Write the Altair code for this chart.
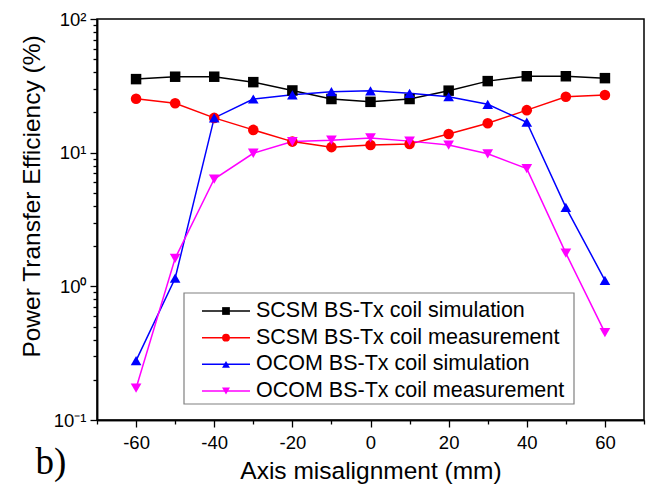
import altair as alt
import pandas as pd

# ---- data ----
x_mm = [-60, -50, -40, -30, -20, -10, 0, 10, 20, 30, 40, 50, 60]
scsm_sim = [35.5, 37.0, 37.0, 33.7, 29.2, 25.2, 24.0, 25.2, 29.1, 34.3, 37.3, 37.3, 36.1]
scsm_meas = [25.3, 23.4, 18.2, 14.8, 12.1, 11.0, 11.4, 11.6, 13.8, 16.6, 20.8, 26.2, 27.0]
ocom_sim = [0.278, 1.15, 18.2, 25.2, 27.1, 28.6, 29.0, 27.8, 26.2, 23.0, 16.9, 3.9, 1.11]
ocom_meas = [0.173, 1.62, 6.35, 9.9, 12.1, 12.4, 12.9, 12.2, 11.4, 9.8, 7.6, 1.77, 0.45]

series_names = [
    "SCSM BS-Tx coil simulation",
    "SCSM BS-Tx coil measurement",
    "OCOM BS-Tx coil simulation",
    "OCOM BS-Tx coil measurement",
]
series_colors = ["#000000", "#ff0000", "#0000ff", "#ff00ff"]
series_shapes = ["square", "circle", "triangle-up", "triangle-down"]
marker_sizes = [110, 115, 140, 140]
legend_marker_sizes = [60, 64, 80, 80]

x_major_ticks = [-60, -40, -20, 0, 20, 40, 60]
x_minor_ticks = [-70, -50, -30, -10, 10, 30, 50, 70]
y_major_ticks = [0.1, 1, 10, 100]
y_minor_ticks = [0.2, 0.3, 0.4, 0.5, 0.6, 0.7, 0.8, 0.9,
                 2, 3, 4, 5, 6, 7, 8, 9,
                 20, 30, 40, 50, 60, 70, 80, 90]

rows = []
for name, vals in zip(series_names, [scsm_sim, scsm_meas, ocom_sim, ocom_meas]):
    for xv, yv in zip(x_mm, vals):
        rows.append({"series": name, "x": xv, "y": yv})
df = pd.DataFrame(rows)

FONT = "Liberation Sans"

color_scale = alt.Scale(domain=series_names, range=series_colors)
shape_scale = alt.Scale(domain=series_names, range=series_shapes)
x_scale = alt.Scale(domain=[-70, 70], nice=False, zero=False)
y_scale = alt.Scale(type="log", domain=[0.1, 100], nice=False)

x_major = alt.X(
    "x:Q",
    scale=x_scale,
    axis=alt.Axis(
        orient="bottom",
        title="Axis misalignment (mm)",
        values=x_major_ticks,
        labelExpr="'' + datum.value",
        tickSize=7,
        labelPadding=6,
        titleY=58,
        titleBaseline="alphabetic",
        labelFlush=False,
        labelOverlap=False,
    ),
)
y_major = alt.Y(
    "y:Q",
    scale=y_scale,
    axis=alt.Axis(
        orient="left",
        title="Power Transfer Efficiency (%)",
        values=y_major_ticks,
        labelExpr=("datum.value == 100 ? '10\u00b2' : datum.value == 10 ? '10\u00b9' : "
                   "datum.value == 1 ? '10\u2070' : '10\u207b\u00b9'"),
        tickSize=7,
        labelPadding=4,
        titleX=-65,
        titleY=177,
        titleAlign="center",
        titleBaseline="middle",
        labelFlush=False,
        labelOverlap=False,
    ),
)
x_minor = alt.X(
    "x:Q", scale=x_scale,
    axis=alt.Axis(orient="bottom", title=None, values=x_minor_ticks, labels=False,
                  tickSize=4, domain=True),
)
y_minor = alt.Y(
    "y:Q", scale=y_scale,
    axis=alt.Axis(orient="left", title=None, values=y_minor_ticks, labels=False,
                  tickSize=4, domain=True),
)

lines = alt.Chart(df).mark_line(strokeWidth=1.5).encode(
    x=x_major,
    y=y_major,
    color=alt.Color("series:N", scale=color_scale, legend=None),
    detail="series:N",
)

points = alt.Chart(df).mark_point(filled=True, opacity=1).encode(
    x=x_minor,
    y=y_minor,
    color=alt.Color("series:N", scale=color_scale, legend=None),
    shape=alt.Shape("series:N", scale=shape_scale, legend=None),
    size=alt.Size("series:N", scale=alt.Scale(domain=series_names, range=marker_sizes), legend=None),
)

main = alt.layer(lines, points).resolve_axis(x="independent", y="independent")

# ---- legend (layout only) ----
leg_df = pd.DataFrame({"series": series_names})
leg_y = alt.Y(
    "series:N",
    scale=alt.Scale(type="point", domain=series_names, range=[292, 372], padding=0),
    axis=None,
)
box = alt.Chart(pd.DataFrame({"k": [0]})).mark_rect(
    fill="white", stroke="#808080", strokeWidth=1.2
).encode(x=alt.value(87), x2=alt.value(477), y=alt.value(274), y2=alt.value(385))

leg_line = alt.Chart(leg_df).mark_rule(strokeWidth=1.5).encode(
    x=alt.value(105), x2=alt.value(153), y=leg_y,
    color=alt.Color("series:N", scale=color_scale, legend=None),
)
leg_pts = alt.Chart(leg_df).mark_point(filled=True, opacity=1).encode(
    x=alt.value(129), y=leg_y,
    color=alt.Color("series:N", scale=color_scale, legend=None),
    shape=alt.Shape("series:N", scale=shape_scale, legend=None),
    size=alt.Size("series:N", scale=alt.Scale(domain=series_names, range=legend_marker_sizes), legend=None),
)
leg_txt = alt.Chart(leg_df).mark_text(
    align="left", baseline="middle", font=FONT, fontSize=21.5, color="black"
).encode(x=alt.value(159), y=leg_y, text="series:N")

legend = alt.layer(box, leg_line, leg_pts, leg_txt)

panel = alt.Chart(pd.DataFrame({"t": ["b)"]})).mark_text(
    font="Liberation Serif", fontSize=37, align="center", baseline="alphabetic", color="black"
).encode(x=alt.value(-46), y=alt.value(455), text="t:N")

chart = (
    alt.layer(main, legend, panel)
    .resolve_scale(y="independent", size="independent")
    .properties(
        width=547,
        height=401,
        autosize=alt.AutoSizeParams(type="none"),
        padding={"left": 97, "top": 19, "right": 13, "bottom": 65},
        background="white",
    )
    .configure_view(stroke="black", strokeWidth=1.5)
    .configure_axis(
        grid=False,
        domainColor="black",
        domainWidth=1.5,
        tickColor="black",
        tickWidth=1.3,
        labelFont=FONT,
        labelFontSize=18.5,
        labelColor="black",
        titleFont=FONT,
        titleFontSize=24.5,
        titleFontWeight="normal",
        titleColor="black",
    )
)

chart.save("out.html", embed_options={"renderer": "svg", "actions": False})
